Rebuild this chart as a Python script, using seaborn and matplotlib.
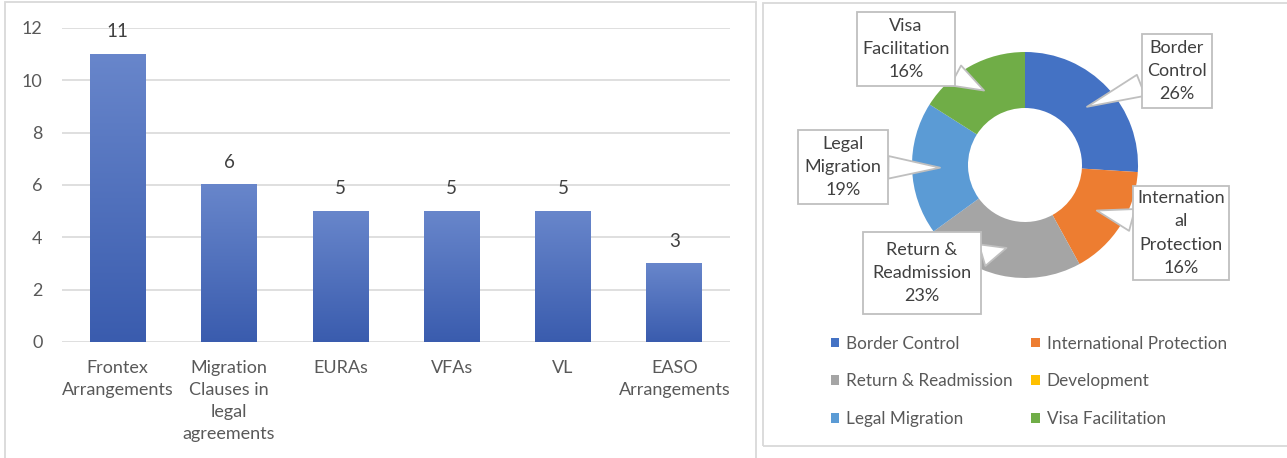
import numpy as np
import matplotlib
matplotlib.use("Agg")
import matplotlib.pyplot as plt
from matplotlib.colors import LinearSegmentedColormap
from matplotlib.patches import Rectangle
import seaborn as sns

# ---- data -------------------------------------------------------------
categories = ["Frontex\nArrangements", "Migration\nClauses in\nlegal\nagreements",
              "EURAs", "VFAs", "VL", "EASO\nArrangements"]
counts = [11, 6, 5, 5, 5, 3]

areas = ["Border Control", "International Protection", "Return & Readmission",
         "Development", "Legal Migration", "Visa Facilitation"]
shares = [26, 16, 23, 0, 19, 16]
area_colors = ["#4472C4", "#ED7D31", "#A5A5A5", "#FFC000", "#5B9BD5", "#70AD47"]
callout_names = ["Border\nControl", "Internation\nal\nProtection", "Return &\nReadmission",
                 "Development", "Legal\nMigration", "Visa\nFacilitation"]

# ---- figure -----------------------------------------------------------
W, H = 1287, 458
sns.set_theme(style="white")
plt.rcParams["font.family"] = ["Lato", "DejaVu Sans"]
fig = plt.figure(figsize=(W / 100, H / 100), dpi=100)
fig.patch.set_facecolor("white")

def fx(px):
    return px / W

def fy(py):
    return 1 - py / H

# panel frames
for (x0, y0, x1, y1) in [(5, 2, 756, 462), (763, 3, 1292, 446)]:
    fig.patches.append(Rectangle((fx(x0), fy(y1)), fx(x1 - x0), (y1 - y0) / H,
                                 transform=fig.transFigure, fill=False,
                                 ec="#D9D9D9", lw=1.3))

# ---- bar chart --------------------------------------------------------
ax1 = fig.add_axes([fx(62), fy(342), fx(730 - 62), (342 - 28) / H])
sns.barplot(x=categories, y=counts, ax=ax1, color="#4A6FBE", width=0.5,
            saturation=1)
ax1.set_ylim(0, 12)
ax1.set_yticks(range(0, 13, 2))
ax1.yaxis.grid(True, color="#D9D9D9", lw=1.2)
ax1.set_axisbelow(True)
for s in ax1.spines.values():
    s.set_visible(False)
ax1.tick_params(axis="y", length=0, pad=14, labelsize=13, labelcolor="#595959")
ax1.tick_params(axis="x", length=0, pad=13, labelsize=13, labelcolor="#595959")
for lab in ax1.get_xticklabels():
    lab.set_linespacing(1.45)

# vertical gradient fill for each bar
grad_cmap = LinearSegmentedColormap.from_list("bar", ["#3A5CAE", "#6886CB"])
grad = np.linspace(0, 1, 256).reshape(-1, 1)
for p in ax1.patches:
    x, y, w, h = p.get_x(), p.get_y(), p.get_width(), p.get_height()
    ax1.imshow(grad, extent=[x, x + w, y, y + h], origin="lower", aspect="auto",
               cmap=grad_cmap, zorder=2)
    p.set_facecolor("none")
    p.set_edgecolor("none")
ax1.set_xlim(-0.5, len(categories) - 0.5)
ax1.set_ylim(0, 12)
for c in ax1.containers:
    ax1.bar_label(c, padding=10, fontsize=13.5, color="#404040")

# ---- donut chart ------------------------------------------------------
ax2 = fig.add_axes([fx(763), 0, fx(W - 763), 1])
ax2.set_xlim(763, W)
ax2.set_ylim(0, H)
ax2.axis("off")
cx, cy, R = 1025, H - 165, 113
wedges, _ = ax2.pie(shares, colors=area_colors, startangle=90, counterclock=False,
                    radius=R, center=(cx, cy),
                    wedgeprops=dict(width=R - 57, linewidth=0))
ax2.set_xlim(763, W)
ax2.set_ylim(0, H)
ax2.set_aspect("auto")

# callout boxes (centres in pixel space, measured from the top)
box_pos = {0: (1177, 71), 1: (1181, 233), 2: (922, 273), 4: (843, 167), 5: (906, 49)}
box_pad = {0: 0.3, 1: 0.25, 2: 0.55, 4: 0.35, 5: 0.3}
for i, wdg in enumerate(wedges):
    if shares[i] == 0:
        continue
    mid = np.deg2rad((wdg.theta1 + wdg.theta2) / 2)
    rm = R - (R - 57) / 2
    tip = (cx + rm * np.cos(mid), cy + rm * np.sin(mid))
    bx, by = box_pos[i]
    ax2.annotate(f"{callout_names[i]}\n{shares[i]}%", xy=tip, xytext=(bx, H - by),
                 ha="center", va="center", fontsize=13, color="#404040",
                 linespacing=1.55,
                 bbox=dict(boxstyle=f"square,pad={box_pad[i]}", fc="white",
                           ec="#BFBFBF", lw=1.3),
                 arrowprops=dict(arrowstyle="wedge,tail_width=1.25,shrink_factor=0.5",
                                 fc="white", ec="#BFBFBF", lw=1.3,
                                 shrinkA=0, shrinkB=0))

# legend laid out row by row across two columns
order = [0, 2, 4, 1, 3, 5]
leg = ax2.legend([wedges[i] for i in order], [areas[i] for i in order],
                 ncol=2, frameon=False, fontsize=12.3, labelcolor="#595959",
                 handlelength=0.52, handleheight=0.52, handletextpad=0.38,
                 columnspacing=1.1, labelspacing=1.27, borderpad=0,
                 loc="upper left", bbox_to_anchor=(fx(822), fy(327)),
                 bbox_transform=fig.transFigure)

fig.savefig("out.png", dpi=100, facecolor="white")
